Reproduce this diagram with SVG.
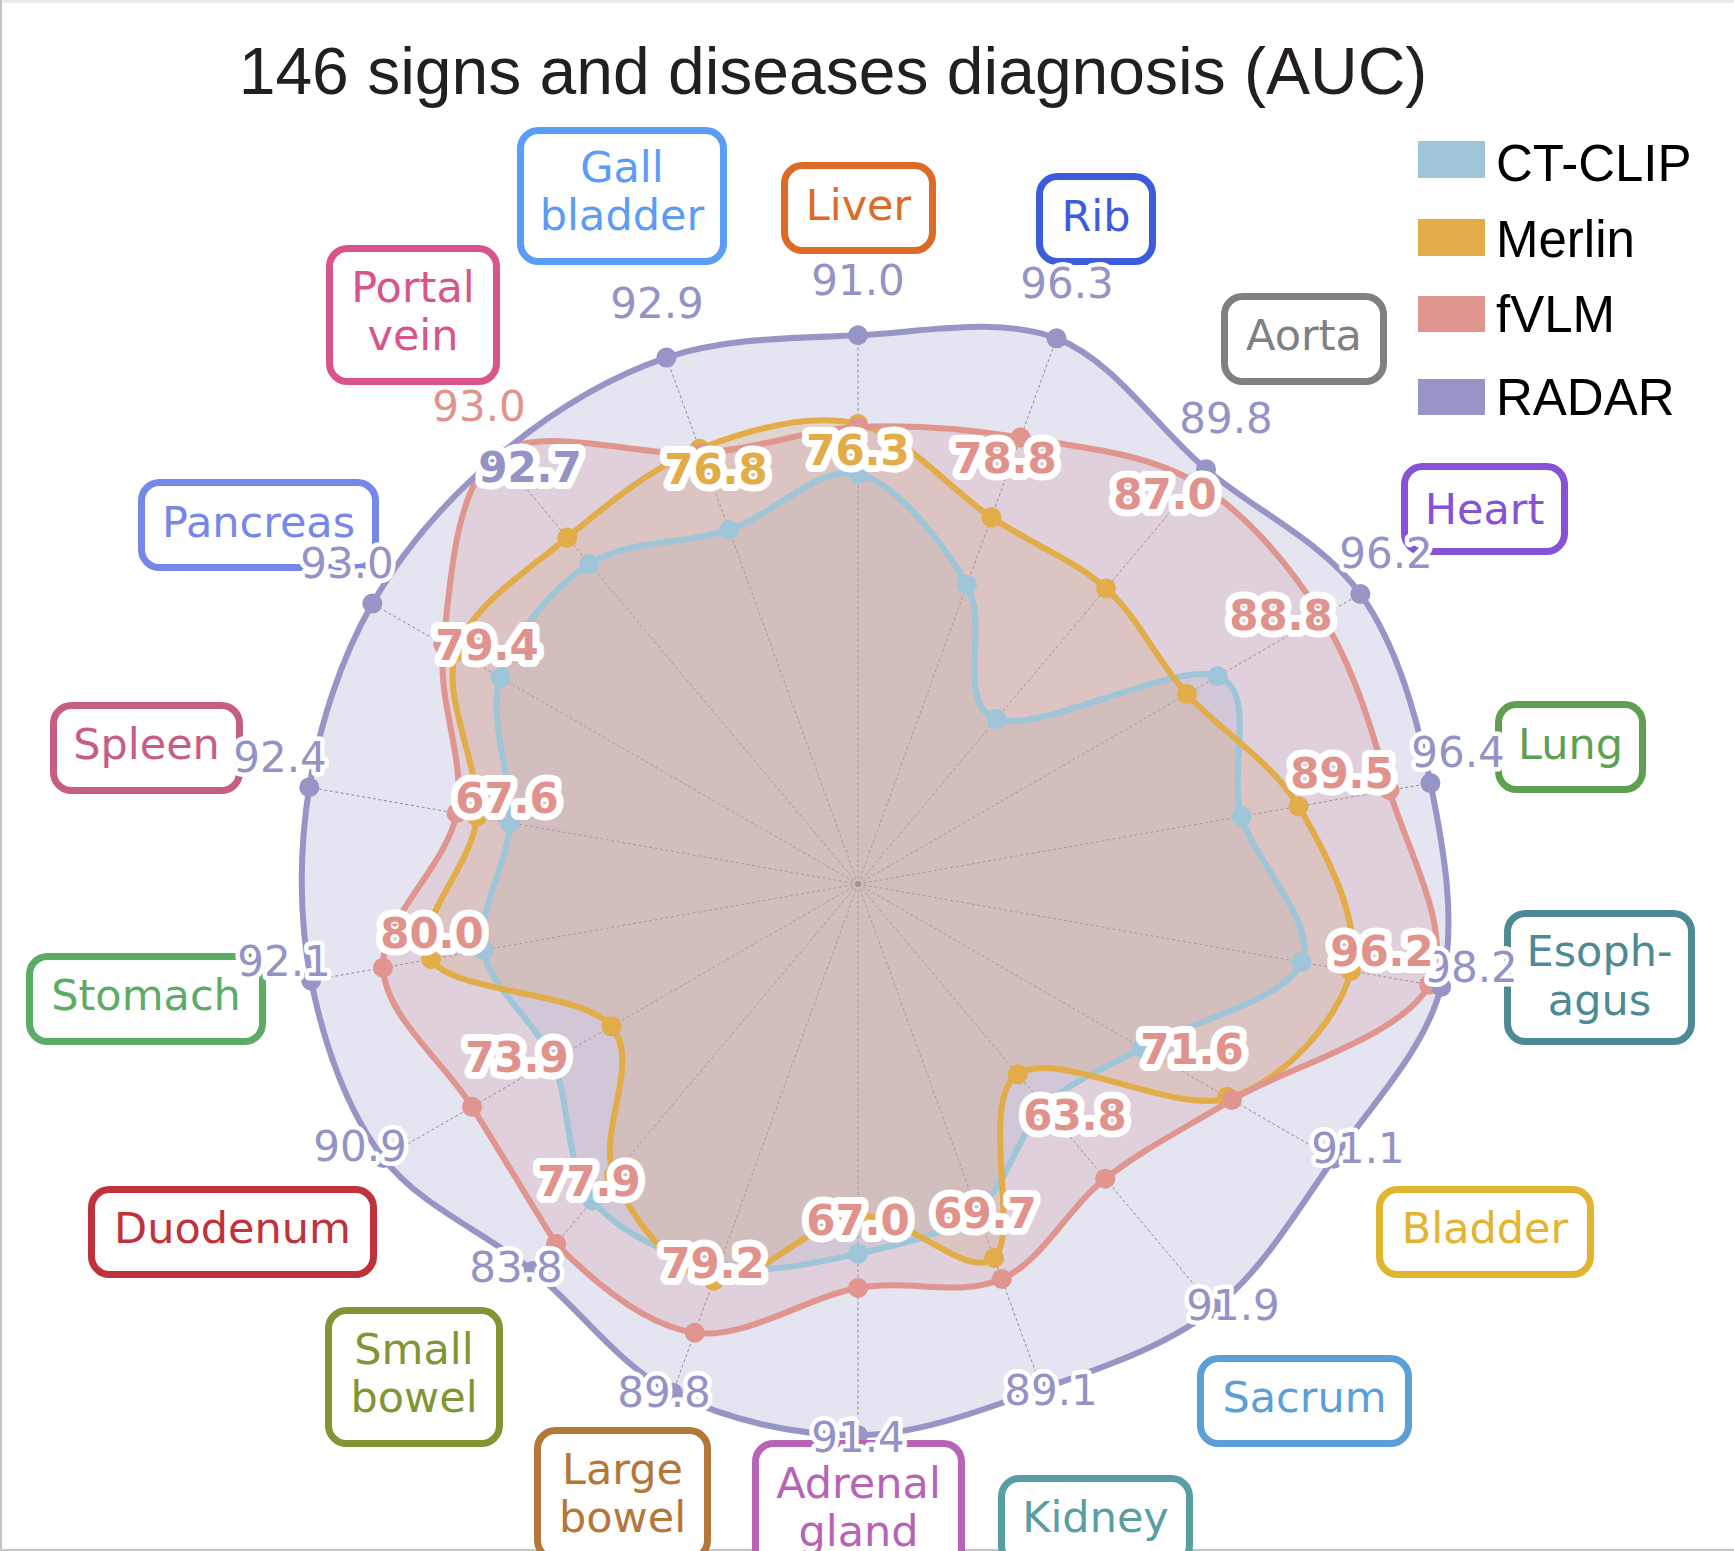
<svg xmlns="http://www.w3.org/2000/svg" xmlns:xlink="http://www.w3.org/1999/xlink" width="1734" height="1551" viewBox="0 0 1734 1551">
<style>
.t{font-family:"DejaVu Sans","Noto Sans",sans-serif;font-size:43px;text-anchor:middle}
.v{font-family:"DejaVu Sans","Noto Sans",sans-serif;font-size:42px;text-anchor:middle;paint-order:stroke;stroke:#fff;stroke-linejoin:round;stroke-width:9}
.b{font-weight:bold;stroke-width:14}
.cr{fill:#9593C6}
.cp{fill:#E0928C}
.co{fill:#E2AC48}
.box{fill:#fff;stroke-width:7}
.sp{stroke:#8a8a8a;stroke-width:1;stroke-dasharray:3 2.5;fill:none}
.lg{font-family:"Liberation Sans",Arial,sans-serif;font-size:51px;fill:#000}
</style>
<defs>
<path id="pC" d="M0,-68 C6.57,-66.48 14.23,-56.4 18.06,-49.62 C21.89,-42.84 16.01,-29.88 22.95,-27.35 C29.89,-24.82 52.89,-37.14 59.67,-34.45 C66.45,-31.76 61.3,-19.11 63.62,-11.21 C65.94,-3.31 76.31,6.57 73.56,12.97 C70.81,19.37 54.21,23.21 47.11,27.2 C40.01,31.19 35.55,32.43 30.98,36.92 C26.41,41.41 24.86,50.07 19.7,54.13 C14.54,58.19 7.13,59.75 0,61.3 C-7.13,62.85 -15.75,64.9 -23.09,63.43 C-30.43,61.96 -39.43,58.17 -44.03,52.47 C-48.63,46.77 -47.64,36.17 -50.66,29.25 C-53.68,22.33 -60.96,17.52 -62.14,10.95 C-63.32,4.38 -58.18,-2.64 -57.71,-10.17 C-57.24,-17.7 -61.51,-27.1 -59.32,-34.25 C-57.13,-41.4 -50.87,-49 -44.55,-53.08 C-38.23,-57.16 -28.81,-56.24 -21.38,-58.73 C-13.95,-61.22 -6.57,-69.52 0,-68Z"/>
<path id="pM" d="M0,-76.3 C8.07,-74.4 15.27,-65.35 22.13,-60.8 C28.99,-56.25 35.73,-53.9 41.14,-49.02 C46.55,-44.14 49.24,-37.52 54.56,-31.5 C59.88,-25.48 68.54,-20.53 73.07,-12.88 C77.6,-5.23 83.67,6.35 81.74,14.41 C79.81,22.47 70.7,32.64 61.49,35.5 C52.28,38.36 32.97,27.14 26.48,31.56 C19.99,35.98 26.98,58.11 22.57,62.02 C18.16,65.93 7.75,54.37 0,55 C-7.75,55.63 -17.19,66.9 -23.94,65.78 C-30.69,64.66 -37.68,55.29 -40.5,48.26 C-43.32,41.23 -35.83,29.56 -40.88,23.6 C-45.93,17.64 -67.09,18.27 -70.81,12.48 C-74.53,6.69 -63.91,-2.65 -63.22,-11.15 C-62.53,-19.65 -69.18,-30.78 -66.68,-38.5 C-64.18,-46.22 -54.95,-51.84 -48.21,-57.45 C-41.47,-63.06 -34.31,-69.03 -26.27,-72.17 C-18.23,-75.31 -8.07,-78.2 0,-76.3Z"/>
<path id="pF" d="M0,-75.8 C8.82,-76.24 17.63,-75.58 26.95,-74.05 C36.27,-72.52 47.59,-71.58 55.92,-66.64 C64.25,-61.7 71.53,-52.92 76.9,-44.4 C82.27,-35.88 85.17,-25.72 88.14,-15.54 C91.11,-5.36 99.1,8.14 94.74,16.7 C90.38,25.26 70.97,30.44 62.01,35.8 C53.05,41.16 47.37,43.92 41.01,48.87 C34.65,53.82 30.68,62.48 23.84,65.5 C17,68.52 8.49,65.51 0,67 C-8.49,68.49 -18.74,75.64 -27.09,74.42 C-35.44,73.2 -43.92,65.92 -50.07,59.67 C-54.86,52.04 -59.21,44.58 -64,36.95 C-68.79,29.32 -78.35,22.01 -78.78,13.89 C-79.21,5.77 -68.24,-2.81 -66.57,-11.74 C-64.9,-20.67 -69.89,-29.78 -68.76,-39.7 C-67.63,-49.62 -66.91,-65.95 -59.78,-71.24 C-52.65,-76.53 -35.95,-70.66 -25.99,-71.42 C-16.03,-72.18 -8.82,-75.36 0,-75.8Z"/>
<path id="pR" d="M0,-91 C10.78,-91.53 23.31,-94.19 32.93,-90.49 C42.55,-86.79 49.32,-75.86 57.72,-68.79 C66.12,-61.72 77.11,-56.78 83.31,-48.1 C89.51,-39.42 92.7,-27.6 94.93,-16.74 C97.16,-5.88 99.38,6.67 96.71,17.05 C94.04,27.43 85.16,36.66 78.89,45.55 C72.62,54.44 67.14,64.04 59.07,70.4 C51,76.76 40.32,80.23 30.47,83.73 C20.62,87.23 10.2,91.29 0,91.4 C-10.2,91.51 -21.73,88.92 -30.71,84.38 C-39.69,79.84 -45.87,70.68 -53.87,64.19 C-61.87,57.7 -72.58,53.48 -78.72,45.45 C-84.86,37.42 -88.65,26.24 -90.7,15.99 C-92.75,5.74 -92.69,-5.62 -91,-16.04 C-89.31,-26.46 -85.78,-37.34 -80.54,-46.5 C-75.3,-55.66 -67.72,-64.21 -59.59,-71.01 C-51.46,-77.81 -41.7,-83.97 -31.77,-87.3 C-21.84,-90.63 -10.78,-90.47 0,-91Z"/>
</defs>
<rect x="0" y="0" width="1734" height="1551" fill="#fff"/>
<rect x="0" y="0" width="1734" height="3" fill="#ebebeb"/>
<line x1="1" y1="0" x2="1" y2="1551" stroke="#c4c4c4" stroke-width="2"/>
<line x1="0" y1="1550" x2="1734" y2="1550" stroke="#c4c4c4" stroke-width="2"/>
<text x="833" y="94" font-family="Liberation Sans,Arial,sans-serif" font-size="66" fill="#231F20" text-anchor="middle">146 signs and diseases diagnosis (AUC)</text>
<g id="connectors" class="sp">
<line x1="858" y1="884" x2="858" y2="335.3"/>
<line x1="858" y1="884" x2="1056.6" y2="338.3"/>
<line x1="858" y1="884" x2="1206.1" y2="469.2"/>
<line x1="858" y1="884" x2="1360.4" y2="594"/>
<line x1="858" y1="884" x2="1430.4" y2="783.1"/>
<line x1="858" y1="884" x2="1441.2" y2="986.8"/>
<line x1="858" y1="884" x2="1333.7" y2="1158.7"/>
<line x1="858" y1="884" x2="1214.2" y2="1308.5"/>
<line x1="858" y1="884" x2="1041.7" y2="1388.9"/>
<line x1="858" y1="884" x2="858" y2="1435.1"/>
<line x1="858" y1="884" x2="672.8" y2="1392.8"/>
<line x1="858" y1="884" x2="533.2" y2="1271.1"/>
<line x1="858" y1="884" x2="383.3" y2="1158.1"/>
<line x1="858" y1="884" x2="311.1" y2="980.4"/>
<line x1="858" y1="884" x2="309.3" y2="787.3"/>
<line x1="858" y1="884" x2="372.3" y2="603.6"/>
<line x1="858" y1="884" x2="498.7" y2="455.8"/>
<line x1="858" y1="884" x2="666.4" y2="357.6"/>
</g>
<circle cx="858" cy="884" r="3" fill="#777"/>
<g id="series" transform="translate(858,884) scale(6.03)">
<use xlink:href="#pC" fill="#9EC5D8" fill-opacity="0.25"/>
<use xlink:href="#pM" fill="#E2AC48" fill-opacity="0.25"/>
<use xlink:href="#pF" fill="#E0958F" fill-opacity="0.25"/>
<use xlink:href="#pR" fill="#9695C6" fill-opacity="0.25"/>
<g fill="none" stroke-width="1" stroke-linejoin="round">
<use xlink:href="#pC" stroke="#9EC5D8"/>
<use xlink:href="#pM" stroke="#E2AC48"/>
<use xlink:href="#pF" stroke="#E0958F"/>
<use xlink:href="#pR" stroke="#9695C6"/>
</g>
<g id="mC" fill="#9EC5D8">
<circle r="1.66" cx="0" cy="-68"/><circle r="1.66" cx="18.06" cy="-49.62"/><circle r="1.66" cx="22.95" cy="-27.35"/><circle r="1.66" cx="59.67" cy="-34.45"/><circle r="1.66" cx="63.62" cy="-11.21"/><circle r="1.66" cx="73.56" cy="12.97"/><circle r="1.66" cx="47.11" cy="27.2"/><circle r="1.66" cx="30.98" cy="36.92"/><circle r="1.66" cx="19.7" cy="54.13"/><circle r="1.66" cx="0" cy="61.3"/><circle r="1.66" cx="-23.09" cy="63.43"/><circle r="1.66" cx="-44.03" cy="52.47"/><circle r="1.66" cx="-50.66" cy="29.25"/><circle r="1.66" cx="-62.14" cy="10.95"/><circle r="1.66" cx="-57.71" cy="-10.17"/><circle r="1.66" cx="-59.32" cy="-34.25"/><circle r="1.66" cx="-44.55" cy="-53.08"/><circle r="1.66" cx="-21.38" cy="-58.73"/>
</g>
<g id="mM" fill="#E2AC48">
<circle r="1.66" cx="0" cy="-76.3"/><circle r="1.66" cx="22.13" cy="-60.8"/><circle r="1.66" cx="41.14" cy="-49.02"/><circle r="1.66" cx="54.56" cy="-31.5"/><circle r="1.66" cx="73.07" cy="-12.88"/><circle r="1.66" cx="81.74" cy="14.41"/><circle r="1.66" cx="61.2" cy="35.3"/><circle r="1.66" cx="26.48" cy="31.56"/><circle r="1.66" cx="22.57" cy="62.02"/><circle r="1.66" cx="0" cy="55"/><circle r="1.66" cx="-23.94" cy="65.78"/><circle r="1.66" cx="-40.5" cy="48.26"/><circle r="1.66" cx="-40.88" cy="23.6"/><circle r="1.66" cx="-70.81" cy="12.48"/><circle r="1.66" cx="-63.22" cy="-11.15"/><circle r="1.66" cx="-66.68" cy="-38.5"/><circle r="1.66" cx="-48.21" cy="-57.45"/><circle r="1.66" cx="-26.27" cy="-72.17"/>
</g>
<g id="mF" fill="#E0958F">
<circle r="1.66" cx="0" cy="-75.8"/><circle r="1.66" cx="26.95" cy="-74.05"/><circle r="1.66" cx="55.92" cy="-66.64"/><circle r="1.66" cx="76.9" cy="-44.4"/><circle r="1.66" cx="88.14" cy="-15.54"/><circle r="1.66" cx="94.74" cy="16.7"/><circle r="1.66" cx="62.01" cy="35.8"/><circle r="1.66" cx="41.01" cy="48.87"/><circle r="1.66" cx="23.84" cy="65.5"/><circle r="1.66" cx="0" cy="67"/><circle r="1.66" cx="-27.09" cy="74.42"/><circle r="1.66" cx="-50.07" cy="59.67"/><circle r="1.66" cx="-64" cy="36.95"/><circle r="1.66" cx="-78.78" cy="13.89"/><circle r="1.66" cx="-66.57" cy="-11.74"/><circle r="1.66" cx="-68.76" cy="-39.7"/><circle r="1.66" cx="-59.78" cy="-71.24"/><circle r="1.66" cx="-25.99" cy="-71.42"/>
</g>
<g id="mR" fill="#9695C6">
<circle r="1.66" cx="0" cy="-91"/><circle r="1.66" cx="32.93" cy="-90.49"/><circle r="1.66" cx="57.72" cy="-68.79"/><circle r="1.66" cx="83.31" cy="-48.1"/><circle r="1.66" cx="94.93" cy="-16.74"/><circle r="1.66" cx="96.71" cy="17.05"/><circle r="1.66" cx="78.89" cy="45.55"/><circle r="1.66" cx="59.07" cy="70.4"/><circle r="1.66" cx="30.47" cy="83.73"/><circle r="1.66" cx="0" cy="91.4"/><circle r="1.66" cx="-30.71" cy="84.38"/><circle r="1.66" cx="-53.87" cy="64.19"/><circle r="1.66" cx="-78.72" cy="45.45"/><circle r="1.66" cx="-90.7" cy="15.99"/><circle r="1.66" cx="-91" cy="-16.04"/><circle r="1.66" cx="-80.54" cy="-46.5"/><circle r="1.66" cx="-59.59" cy="-71.01"/><circle r="1.66" cx="-31.77" cy="-87.3"/>
</g>
</g>
<g id="legend">
<rect x="1418" y="141" width="67" height="37" fill="#9EC5D8"/><text class="lg" x="1496" y="181">CT-CLIP</text>
<rect x="1418" y="219" width="67" height="37" fill="#E2AC48"/><text class="lg" x="1496" y="257">Merlin</text>
<rect x="1418" y="296" width="67" height="36" fill="#E0958F"/><text class="lg" x="1496" y="332">fVLM</text>
<rect x="1418" y="379" width="67" height="36" fill="#9695C6"/><text class="lg" x="1496" y="415">RADAR</text>
</g>
<g id="gallbladder"><rect class="box" x="520.5" y="130.5" width="203" height="131" rx="18" stroke="#5B9CF6"/><text class="t" x="622" y="182" fill="#5B9CF6">Gall</text><text class="t" x="622" y="230" fill="#5B9CF6">bladder</text></g>
<g id="liver"><rect class="box" x="784.5" y="165.5" width="148" height="85" rx="18" stroke="#DD6A26"/><text class="t" x="858.5" y="220" fill="#DD6A26">Liver</text></g>
<g id="rib"><rect class="box" x="1039.5" y="176.5" width="113" height="85" rx="18" stroke="#3D5CDC"/><text class="t" x="1096" y="231" fill="#3D5CDC">Rib</text></g>
<g id="aorta"><rect class="box" x="1224.5" y="296.5" width="159" height="85" rx="18" stroke="#808080"/><text class="t" x="1304" y="350" fill="#808080">Aorta</text></g>
<g id="heart"><rect class="box" x="1404.5" y="466.5" width="160" height="85" rx="18" stroke="#8753D6"/><text class="t" x="1484.5" y="524" fill="#8753D6">Heart</text></g>
<g id="lung"><rect class="box" x="1498.5" y="704.5" width="144" height="85" rx="18" stroke="#5E9F52"/><text class="t" x="1570.5" y="759" fill="#5E9F52">Lung</text></g>
<g id="esophagus"><rect class="box" x="1507.5" y="913.5" width="184" height="128" rx="18" stroke="#4E8A94"/><text class="t" x="1599.5" y="966" fill="#4E8A94">Esoph-</text><text class="t" x="1599.5" y="1015" fill="#4E8A94">agus</text></g>
<g id="bladder"><rect class="box" x="1379.5" y="1189.5" width="211" height="85" rx="18" stroke="#E2B530"/><text class="t" x="1485" y="1243" fill="#E2B530">Bladder</text></g>
<g id="sacrum"><rect class="box" x="1200.5" y="1358.5" width="208" height="85" rx="18" stroke="#5A9FD8"/><text class="t" x="1304.5" y="1412" fill="#5A9FD8">Sacrum</text></g>
<g id="kidney"><rect class="box" x="1001.5" y="1478.5" width="188" height="85" rx="18" stroke="#589EA2"/><text class="t" x="1095.5" y="1532" fill="#589EA2">Kidney</text></g>
<g id="adrenal"><rect class="box" x="755.5" y="1443.5" width="206" height="128" rx="18" stroke="#B864B6"/><text class="t" x="858.5" y="1498" fill="#B864B6">Adrenal</text><text class="t" x="858.5" y="1546" fill="#B864B6">gland</text></g>
<g id="largebowel"><rect class="box" x="537.5" y="1430.5" width="170" height="128" rx="18" stroke="#B3773A"/><text class="t" x="622.5" y="1484" fill="#B3773A">Large</text><text class="t" x="622.5" y="1532" fill="#B3773A">bowel</text></g>
<g id="smallbowel"><rect class="box" x="328.5" y="1310.5" width="171" height="133" rx="18" stroke="#819535"/><text class="t" x="414" y="1364" fill="#819535">Small</text><text class="t" x="414" y="1412" fill="#819535">bowel</text></g>
<g id="duodenum"><rect class="box" x="91.5" y="1189.5" width="282" height="85" rx="18" stroke="#C0323B"/><text class="t" x="232.5" y="1243" fill="#C0323B">Duodenum</text></g>
<g id="stomach"><rect class="box" x="29.5" y="956.5" width="233" height="85" rx="18" stroke="#5CAB67"/><text class="t" x="146" y="1010" fill="#5CAB67">Stomach</text></g>
<g id="spleen"><rect class="box" x="53.5" y="705.5" width="186" height="85" rx="18" stroke="#C65E83"/><text class="t" x="146.5" y="759" fill="#C65E83">Spleen</text></g>
<g id="pancreas"><rect class="box" x="141.5" y="482.5" width="234" height="85" rx="18" stroke="#7687E9"/><text class="t" x="258.5" y="537" fill="#7687E9">Pancreas</text></g>
<g id="portalvein"><rect class="box" x="329.5" y="248.5" width="167" height="133" rx="18" stroke="#D8548A"/><text class="t" x="413" y="302" fill="#D8548A">Portal</text><text class="t" x="413" y="350" fill="#D8548A">vein</text></g>
<g id="values">
<text class="v cr" x="858" y="295">91.0</text>
<text class="v cr" x="1067" y="298">96.3</text>
<text class="v cr" x="1226" y="433">89.8</text>
<text class="v cr" x="1386" y="568">96.2</text>
<text class="v cr" x="1458" y="767">96.4</text>
<text class="v cr" x="1471" y="982">98.2</text>
<text class="v cr" x="1358" y="1163">91.1</text>
<text class="v cr" x="1233" y="1320">91.9</text>
<text class="v cr" x="1051" y="1405">89.1</text>
<text class="v cr" x="858" y="1452">91.4</text>
<text class="v cr" x="664" y="1407">89.8</text>
<text class="v cr" x="516" y="1282">83.8</text>
<text class="v cr" x="360" y="1161">90.9</text>
<text class="v cr" x="284" y="976">92.1</text>
<text class="v cr" x="280" y="772">92.4</text>
<text class="v cr" x="347" y="578">93.0</text>
<text class="v cr" x="657" y="318">92.9</text>
<text class="v cp" x="479" y="421">93.0</text>
<text class="v b cr" x="530" y="482">92.7</text>
<text class="v b co" x="858" y="465">76.3</text>
<text class="v b co" x="716" y="484">76.8</text>
<text class="v b cp" x="1005" y="473">78.8</text>
<text class="v b cp" x="1165" y="509">87.0</text>
<text class="v b cp" x="1281" y="630">88.8</text>
<text class="v b cp" x="1342" y="788">89.5</text>
<text class="v b cp" x="1382" y="966">96.2</text>
<text class="v b cp" x="1192" y="1064">71.6</text>
<text class="v b cp" x="1075" y="1130">63.8</text>
<text class="v b cp" x="985" y="1228">69.7</text>
<text class="v b cp" x="858" y="1235">67.0</text>
<text class="v b cp" x="713" y="1278">79.2</text>
<text class="v b cp" x="589" y="1196">77.9</text>
<text class="v b cp" x="517" y="1072">73.9</text>
<text class="v b cp" x="432" y="948">80.0</text>
<text class="v b cp" x="507" y="813">67.6</text>
<text class="v b cp" x="487" y="660">79.4</text>
</g>
</svg>
